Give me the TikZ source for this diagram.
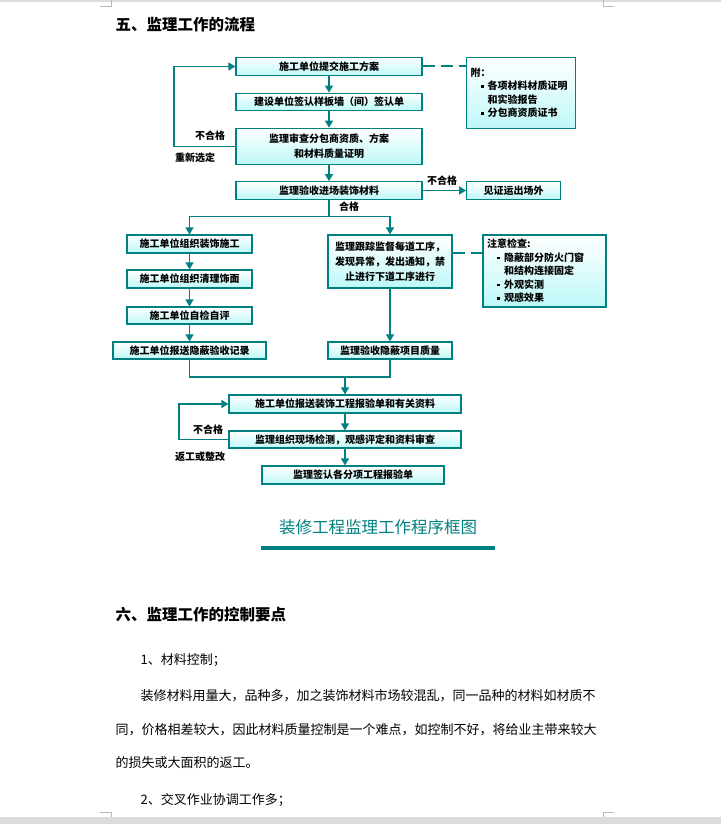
\documentclass[tikz,border=0pt]{standalone}
\usepackage{fontspec}
\setmainfont{Noto Sans CJK SC}
\usetikzlibrary{arrows.meta,positioning}
\definecolor{jlteal}{RGB}{0,128,128}
\definecolor{jlcyan}{RGB}{190,248,248}
\definecolor{pagegray}{RGB}{220,220,220}
\definecolor{markgray}{RGB}{185,185,185}
\newcommand{\sqb}{\rule[2pt]{2.8pt}{2.8pt}\hspace{4.2pt}}
\tikzset{
  box/.style={draw=jlteal, line width=1.2pt, top color=white, bottom color=jlcyan,
              inner sep=2pt, align=center, font=\fontsize{10}{15}\selectfont\bfseries},
  notebox/.style={draw=jlteal, line width=1.2pt, top color=white, bottom color=jlcyan,
              inner sep=4pt, align=left, font=\fontsize{10}{13.5}\selectfont\bfseries},
  flowline/.style={jlteal, line width=1.2pt},
  flowarr/.style={flowline, -{Triangle[length=7pt,width=8pt]}},
  dashlink/.style={jlteal, line width=2pt, dash pattern=on 12pt off 6pt},
  lbl/.style={font=\fontsize{10}{12}\selectfont\bfseries},
  ttl/.style={anchor=west, font=\fontsize{15.5}{18}\selectfont\bfseries},
  bodytxt/.style={anchor=west, font=\fontsize{13}{15}\selectfont},
  captxt/.style={text=jlteal, font=\fontsize{16.5}{19}\selectfont},
  capline/.style={jlteal, line width=4pt},
  pagemark/.style={markgray, line width=0.8pt},
}
\begin{document}
\begin{tikzpicture}[x=1pt, y=-1pt]
  \useasboundingbox (0,0) rectangle (721,824);
  % page edges
  \fill[pagegray] (0,0) rectangle (721,2);
  \fill[pagegray] (0,817) rectangle (721,824);
  \draw[pagemark] (100,6) -- (111,6) -- (111,0);
  \draw[pagemark] (614,6) -- (603,6) -- (603,0);
  \draw[pagemark] (100,812) -- (111,812) -- (111,817);
  \draw[pagemark] (614,812) -- (603,812) -- (603,817);

  \node[ttl] (head1) at (112,25) {五、监理工作的流程};

  % upper part
  \node[box, minimum width=186pt, minimum height=18.5pt] (b1) at (329,66.5) {施工单位提交施工方案};
  \node[box, minimum width=186pt, minimum height=17pt] (b2) at (329,101.7) {建设单位签认样板墙（间）签认单};
  \node[box, minimum width=186pt, minimum height=36pt] (b3) at (329,146.3) {监理审查分包商资质、方案\\和材料质量证明};
  \node[box, minimum width=186pt, minimum height=17.6pt] (b4) at (329,190.5) {监理验收进场装饰材料};
  \node[box, minimum width=94pt, minimum height=17.6pt] (out) at (513.7,190.5) {见证运出场外};
  \node[notebox, text width=101pt, minimum height=71pt] (note1) at (521.2,92.8)
    {附：\\
     \hspace{10pt}\sqb 各项材料材质证明\\
     \hspace{17pt}和实验报告\\
     \hspace{10pt}\sqb 分包商资质证书};

  % two columns
  \node[box, minimum width=125pt, minimum height=18pt] (l1) at (189.5,244) {施工单位组织装饰施工};
  \node[box, minimum width=125pt, minimum height=18pt] (l2) at (189.5,279) {施工单位组织清理饰面};
  \node[box, minimum width=125pt, minimum height=17pt] (l3) at (189.5,315.5) {施工单位自检自评};
  \node[box, minimum width=153pt, minimum height=17pt] (l4) at (189.5,350.5) {施工单位报送隐蔽验收记录};
  \node[box, minimum width=124pt, minimum height=53pt] (r1) at (390,261.5)
    {监理跟踪监督每道工序，\\发现异常，发出通知，禁\\止进行下道工序进行};
  \node[box, minimum width=124pt, minimum height=17pt] (r2) at (390,350.5) {监理验收隐蔽项目质量};
  \node[notebox, text width=115pt, minimum height=72pt] (note2) at (544.5,271)
    {注意检查:\\
     \hspace{10pt}\sqb 隐蔽部分防火门窗\\
     \hspace{17pt}和结构连接固定\\
     \hspace{10pt}\sqb 外观实测\\
     \hspace{10pt}\sqb 观感效果};

  % lower part
  \node[box, minimum width=232pt, minimum height=18pt] (c1) at (345,404) {施工单位报送装饰工程报验单和有关资料};
  \node[box, minimum width=232pt, minimum height=17pt] (c2) at (345,439.5) {监理组织现场检测，观感评定和资料审查};
  \node[box, minimum width=182pt, minimum height=18pt] (c3) at (353,475) {监理签认各分项工程报验单};

  % labels
  \node[lbl] (failA) at (210,136) {不合格};
  \node[lbl] (redo) at (195,158) {重新选定};
  \node[lbl] (failB) at (442,181) {不合格};
  \node[lbl] (passA) at (349,207) {合格};
  \node[lbl] (failC) at (208,430) {不合格};
  \node[lbl] (rework) at (200,457) {返工或整改};

  % connectors
  \coordinate (split) at (329,216.7);
  \coordinate (merge) at (345,377);
  \coordinate (backA) at (174,146.3);
  \coordinate (backB) at (179,439.5);
  \coordinate (tapB) at ([yshift=8.5pt]r1.east);
  \draw[flowarr] (b1) -- (b2);
  \draw[flowarr] (b2) -- (b3);
  \draw[flowarr] (b3) -- (b4);
  \draw[flowarr] (b4) -- (out);
  \draw[flowarr] (b3.west) -- (backA) |- (b1.west);
  \draw[dashlink] (b1.east) -- (b1.east -| note1.west);
  \draw[flowline] (b4) -- (split);
  \draw[flowarr] (split) -| (l1);
  \draw[flowarr] (split) -| (r1);
  \draw[flowarr] (l1) -- (l2);
  \draw[flowarr] (l2) -- (l3);
  \draw[flowarr] (l3) -- (l4);
  \draw[flowarr] (r1) -- (r2);
  \draw[dashlink] (tapB) -- (tapB -| note2.west);
  \draw[flowline] (l4) |- (merge);
  \draw[flowline] (r2) |- (merge);
  \draw[flowarr] (merge) -- (c1);
  \draw[flowarr] (c1) -- (c2);
  \draw[flowarr] (c2.south) -- (c2.south |- c3.north);
  \draw[flowarr] (c2.west) -- (backB) |- (c1.west);

  % caption
  \node[captxt] (cap) at (378,527) {装修工程监理工作程序框图};
  \draw[capline] (261,548) -- (495,548);

  % text below
  \node[ttl] (head2) at (112,615) {六、监理工作的控制要点};
  \node[bodytxt] (item1) at (137,660) {1、材料控制；};
  \node[bodytxt] (para1) at (137,696) {装修材料用量大，品种多，加之装饰材料市场较混乱，同一品种的材料如材质不};
  \node[bodytxt] (para2) at (112,730) {同，价格相差较大，因此材料质量控制是一个难点，如控制不好，将给业主带来较大};
  \node[bodytxt] (para3) at (112,763) {的损失或大面积的返工。};
  \node[bodytxt] (item2) at (137,800) {2、交叉作业协调工作多；};
\end{tikzpicture}
\end{document}
